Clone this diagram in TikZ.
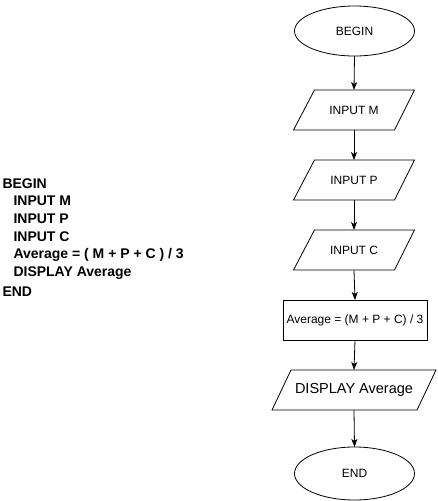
\documentclass[tikz,border=0pt]{standalone}
\usepackage{fontspec}
\setmainfont{Liberation Sans}
\usetikzlibrary{shapes.geometric,arrows.meta}
\begin{document}
\begin{tikzpicture}[x=1pt,y=-1pt,
  every node/.style={inner sep=0pt,outer sep=0pt},
  term/.style={ellipse,draw,line width=0.8pt,minimum width=120pt,minimum height=50pt,font=\fontsize{12}{14}\selectfont},
  iobox/.style={minimum height=40pt,font=\fontsize{12}{14}\selectfont},
  procbox/.style={draw,line width=0.8pt,minimum width=144pt,minimum height=40pt,font=\fontsize{12}{14}\selectfont},
  para/.style={line width=0.8pt},
  flow/.style={line width=0.8pt,-{Stealth[length=8pt,width=6pt,inset=2pt]}},
  code/.style={anchor=west,font=\bfseries\fontsize{14}{16}\selectfont}]
\useasboundingbox (0,0) rectangle (437,501);
% flowchart
\node[term] (begin) at (354.5,31) {BEGIN};
\node[iobox,minimum width=121pt] (inm) at (354,110) {INPUT M};
\node[iobox,minimum width=121pt] (inp) at (354,180) {INPUT P};
\node[iobox,minimum width=121pt] (inc) at (354,250) {INPUT C};
\node[procbox] (avg) at (355,320) {Average = (M + P + C) / 3};
\node[iobox,minimum width=164pt,font=\fontsize{14.5}{17}\selectfont] (disp) at (354,390) {DISPLAY Average};
\node[term,minimum height=53pt] (end) at (354.5,473.5) {END};
\foreach \n in {inm,inp,inc}{
  \draw[para] ([xshift=21pt]\n.north west) -- (\n.north east) -- ([xshift=-20pt]\n.south east) -- (\n.south west) -- cycle;
}
\draw[para] ([xshift=19pt]disp.north west) -- (disp.north east) -- ([xshift=-19pt]disp.south east) -- (disp.south west) -- cycle;
\draw[flow] (begin.south) -- (inm.north);
\draw[flow] (inm.south) -- (inp.north);
\draw[flow] (inp.south) -- (inc.north);
\draw[flow] (inc.south) -- (avg.north);
\draw[flow] (avg.south) -- (disp.north);
\draw[flow] (disp.south) -- (end.north);
% pseudocode
\node[code] (c1) at (2.5,183.5) {BEGIN};
\node[code] (c2) at (13.5,201) {INPUT M};
\node[code] (c3) at (13.5,218.5) {INPUT P};
\node[code] (c4) at (13.5,237) {INPUT C};
\node[code] (c5) at (13.5,255) {Average = ( M + P + C ) / 3};
\node[code] (c6) at (13.5,273) {DISPLAY Average};
\node[code] (c7) at (2.5,291.5) {END};
\end{tikzpicture}
\end{document}
